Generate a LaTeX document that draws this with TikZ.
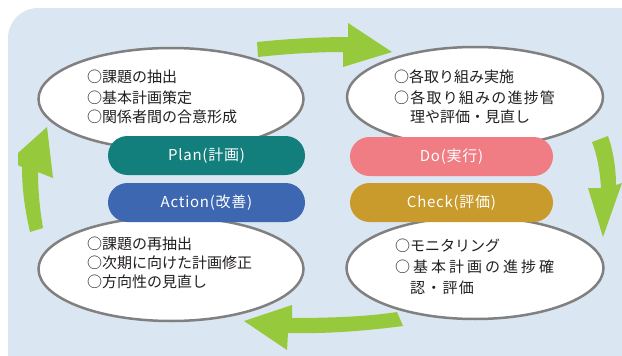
\documentclass[tikz,border=0pt]{standalone}
\usepackage{fontspec}
\setmainfont{Noto Sans CJK JP}
\usetikzlibrary{shapes.geometric}
\definecolor{bgblue}{HTML}{DAE6F1}
\definecolor{arrowgreen}{HTML}{97C93C}
\definecolor{ringgray}{HTML}{808080}
\definecolor{plancol}{HTML}{127F7C}
\definecolor{docol}{HTML}{F07C84}
\definecolor{actcol}{HTML}{3E67B2}
\definecolor{chkcol}{HTML}{C99A2C}
\definecolor{txt}{HTML}{231F20}
\begin{document}
\begin{tikzpicture}[x=1pt,y=-1pt,
  oval/.style={ellipse, draw=ringgray, line width=2.5pt, fill=white, inner sep=0pt},
  pill/.style={rounded corners=19.5pt, fill=#1, minimum width=197pt, minimum height=39pt, inner sep=0pt, text=white, font=\fontsize{15}{15}\selectfont\addfontfeature{LetterSpace=5}},
  item/.style={anchor=west, inner sep=0pt, text=txt, font=\fontsize{15}{15}\selectfont},
  bigarrow/.style={fill=arrowgreen, draw=none}]
\useasboundingbox (0,0) rectangle (622,356);
\clip (0,0) rectangle (622,356);
\fill[bgblue, rounded corners=30pt] (8,8) rectangle (652,386);
% cycle arrows
\path[bigarrow] (257,42) .. controls (285,39) and (320,37) .. (348,37) -- (348,23) -- (392,52) -- (343,67) -- (343,52) .. controls (315,52) and (285,54) .. (258,57) -- cycle;
\path[bigarrow] (592,142) .. controls (597,155) and (600,170) .. (601,188) -- (588,188) -- (603,237) -- (622,183) -- (616,185) .. controls (616,168) and (613,150) .. (608,136) -- cycle;
\path[bigarrow] (397,312) .. controls (365,317) and (325,318) .. (292,318) -- (292,305) -- (244,321) -- (287,350) -- (288,333) .. controls (325,334) and (365,331) .. (403,326) -- cycle;
\path[bigarrow] (30,232) .. controls (25,210) and (22,190) .. (22,167) -- (18,165) -- (18,153) -- (47,127) -- (53,178) -- (38,172) .. controls (38,192) and (40,210) .. (43,228) -- cycle;
% ellipses
\node[oval, minimum width=265pt, minimum height=102pt] (planE) at (171,99) {};
\node[oval, minimum width=256pt, minimum height=100pt] (doE) at (475,97) {};
\node[oval, minimum width=265pt, minimum height=104pt] (actE) at (171,269) {};
\node[oval, minimum width=257pt, minimum height=102pt] (chkE) at (475,268) {};
% texts
\node[item] (p1) at (87,77) {○課題の抽出};
\node[item] (p2) at (87,98) {○基本計画策定};
\node[item] (p3) at (87,117) {○関係者間の合意形成};
\node[item] (d1) at (394,77) {○各取り組み実施};
\node[item, font=\fontsize{15}{15}\selectfont\addfontfeature{LetterSpace=8}] (d2) at (394,98) {○各取り組みの進捗管};
\node[item] (d3) at (410,117) {理や評価・見直し};
\node[item] (a1) at (87,244) {○課題の再抽出};
\node[item] (a2) at (87,263) {○次期に向けた計画修正};
\node[item] (a3) at (87,282) {○方向性の見直し};
\node[item] (c1) at (395,246) {○モニタリング};
\node[item, font=\fontsize{15}{15}\selectfont\addfontfeature{LetterSpace=20}] (c2) at (395,267) {○基本計画の進捗確};
\node[item, font=\fontsize{15}{15}\selectfont\addfontfeature{LetterSpace=8}] (c3) at (410,288) {認・評価};
% pills
\node[pill=plancol] (plan) at (206.5,155.5) {Plan(計画)};
\node[pill=docol, minimum width=203pt] (do) at (451.5,156.5) {Do(実行)};
\node[pill=actcol] (act) at (206.5,202.5) {Action(改善)};
\node[pill=chkcol, minimum width=203pt] (chk) at (451.5,202.5) {Check(評価)};
\end{tikzpicture}
\end{document}
